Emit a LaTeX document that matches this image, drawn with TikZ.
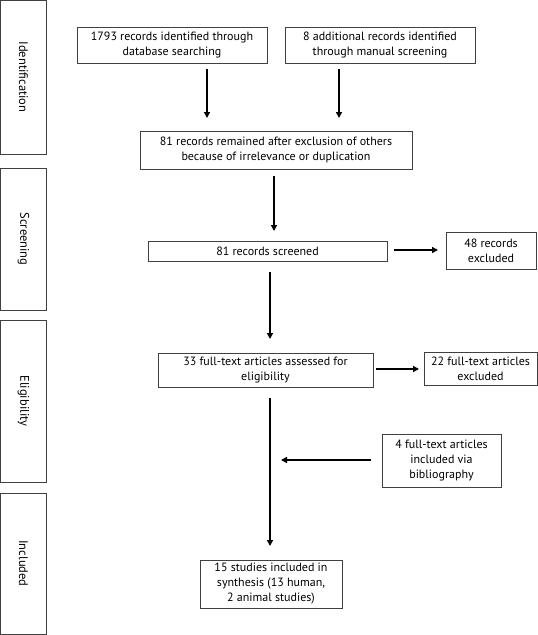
\documentclass[tikz,border=0pt]{standalone}
\usepackage{fontspec}
\setmainfont{PT Sans}
\usetikzlibrary{arrows.meta}
\begin{document}
\begin{tikzpicture}[x=1pt,y=-1pt,
  box/.style={draw=black!75,line width=0.8pt,align=center,inner sep=1pt,
    font=\fontsize{12}{15}\selectfont,fill=white},
  side/.style={draw=black!75,line width=0.8pt,minimum width=46pt},
  sidelabel/.style={rotate=-90,font=\fontsize{12.5}{14}\selectfont},
  arr/.style={line width=1.8pt,-{Triangle[width=6pt,length=6pt]}}]
\useasboundingbox (0,0) rectangle (538,635);
% side boxes
\node[side,minimum height=154pt] (s1) at (23.5,77) {};
\node[sidelabel] (t1) at (s1.center) {Identification};
\node[side,minimum height=142pt] (s2) at (23.5,239) {};
\node[sidelabel] (t2) at (s2.center) {Screening};
\node[side,minimum height=162pt] (s3) at (23.5,401) {};
\node[sidelabel] (t3) at (s3.center) {Eligibility};
\node[side,minimum height=141pt] (s4) at (23.5,563.5) {};
\node[sidelabel] (t4) at (s4.center) {Included};
% boxes
\node[box,minimum width=190pt,minimum height=36pt] (b1) at (172,45) {1793 records identified through\\database searching};
\node[box,minimum width=190pt,minimum height=36pt] (b2) at (380,45) {8 additional records identified\\through manual screening};
\node[box,minimum width=272pt,minimum height=38pt] (b3) at (276,150) {81 records remained after exclusion of others\\because of irrelevance or duplication};
\node[box,minimum width=239pt,minimum height=20pt] (b4) at (267.5,251) {81 records screened};
\node[box,minimum width=90pt,minimum height=37pt] (b5) at (491,250.5) {48 records\\excluded};
\node[box,minimum width=215pt,minimum height=34pt] (b6) at (265.5,370) {33 full-text articles assessed for\\eligibility};
\node[box,minimum width=113pt,minimum height=33pt] (b7) at (480.5,368.5) {22 full-text articles\\excluded};
\node[box,minimum width=119pt,minimum height=53pt] (b8) at (441.5,460.5) {4 full-text articles\\included via\\bibliography};
\node[box,minimum width=142pt,minimum height=48pt] (b9) at (271,584) {15 studies included in\\synthesis (13 human,\\2 animal studies)};
% arrow end points
\coordinate (a1s) at (207,69);  \coordinate (a1e) at (207,118);
\coordinate (a2s) at (339,69);  \coordinate (a2e) at (339,118);
\coordinate (a3s) at (274,176); \coordinate (a3e) at (274,231);
\coordinate (a4s) at (270,272); \coordinate (a4e) at (270,339);
\coordinate (a5s) at (270,398); \coordinate (a5e) at (270,546);
\coordinate (a6s) at (394,250); \coordinate (a6e) at (438,250);
\coordinate (a7s) at (376,369); \coordinate (a7e) at (419,369);
\coordinate (a8s) at (371,460); \coordinate (a8e) at (281,460);
\draw[arr] (a1s) -- (a1e);
\draw[arr] (a2s) -- (a2e);
\draw[arr] (a3s) -- (a3e);
\draw[arr] (a4s) -- (a4e);
\draw[arr] (a5s) -- (a5e);
\draw[arr] (a6s) -- (a6e);
\draw[arr] (a7s) -- (a7e);
\draw[arr] (a8s) -- (a8e);
\end{tikzpicture}
\end{document}
